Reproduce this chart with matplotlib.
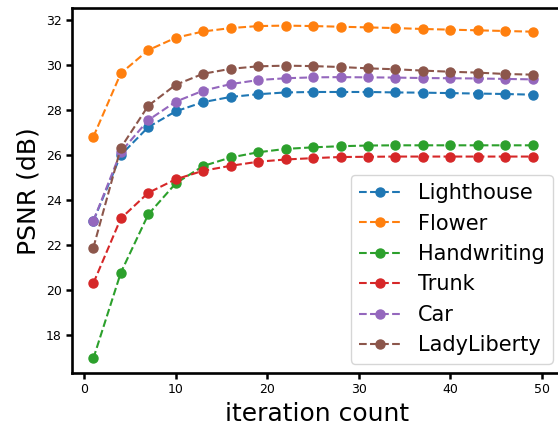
import numpy as np
import matplotlib
matplotlib.use("Agg")
import matplotlib.pyplot as plt

iterations = [1, 4, 7, 10, 13, 16, 19, 22, 25, 28, 31, 34, 37, 40, 43, 46, 49]

lighthouse = [23.05, 25.98, 27.22, 27.92, 28.33, 28.56, 28.68, 28.76, 28.78, 28.78,
              28.78, 28.76, 28.75, 28.73, 28.71, 28.69, 28.66]
flower = [26.79, 29.61, 30.64, 31.19, 31.47, 31.62, 31.71, 31.73, 31.71, 31.68,
          31.65, 31.62, 31.58, 31.55, 31.52, 31.49, 31.46]
handwriting = [16.94, 20.75, 23.34, 24.72, 25.49, 25.87, 26.10, 26.25, 26.32, 26.37,
               26.40, 26.41, 26.41, 26.41, 26.41, 26.41, 26.41]
trunk = [20.28, 23.16, 24.30, 24.90, 25.28, 25.50, 25.68, 25.78, 25.84, 25.89,
         25.90, 25.91, 25.91, 25.91, 25.91, 25.91, 25.91]
car = [23.06, 26.12, 27.53, 28.35, 28.84, 29.13, 29.31, 29.39, 29.43, 29.44,
       29.43, 29.42, 29.40, 29.39, 29.38, 29.36, 29.34]
lady_liberty = [21.86, 26.30, 28.17, 29.10, 29.59, 29.81, 29.92, 29.95, 29.93, 29.89,
                29.83, 29.79, 29.73, 29.68, 29.64, 29.58, 29.55]

series = [
    ("Lighthouse", lighthouse),
    ("Flower", flower),
    ("Handwriting", handwriting),
    ("Trunk", trunk),
    ("Car", car),
    ("LadyLiberty", lady_liberty),
]

fig = plt.figure(figsize=(5.58, 4.29), dpi=100)
# the right spine sits just past the image edge, as in the reference crop
ax = fig.add_axes([0.1296, 0.1305, 0.8776, 0.8502])

for name, vals in series:
    ax.plot(iterations, vals, "--o", label=name, linewidth=1.5, markersize=6.5)

ax.set_xlim(-1.3, 52.2)
ax.set_ylim(16.29, 32.5)
ax.set_xlabel("iteration count", fontsize=18)
ax.set_ylabel("PSNR (dB)", fontsize=18)
ax.set_xticks([0, 10, 20, 30, 40, 50])
ax.set_yticks([18, 20, 22, 24, 26, 28, 30, 32])
ax.tick_params(labelsize=9, width=1.8, length=4)
for s in ax.spines.values():
    s.set_linewidth(1.9)

ax.legend(loc="lower right", fontsize=15, borderaxespad=0.45)

fig.savefig("out.png", dpi=100)
